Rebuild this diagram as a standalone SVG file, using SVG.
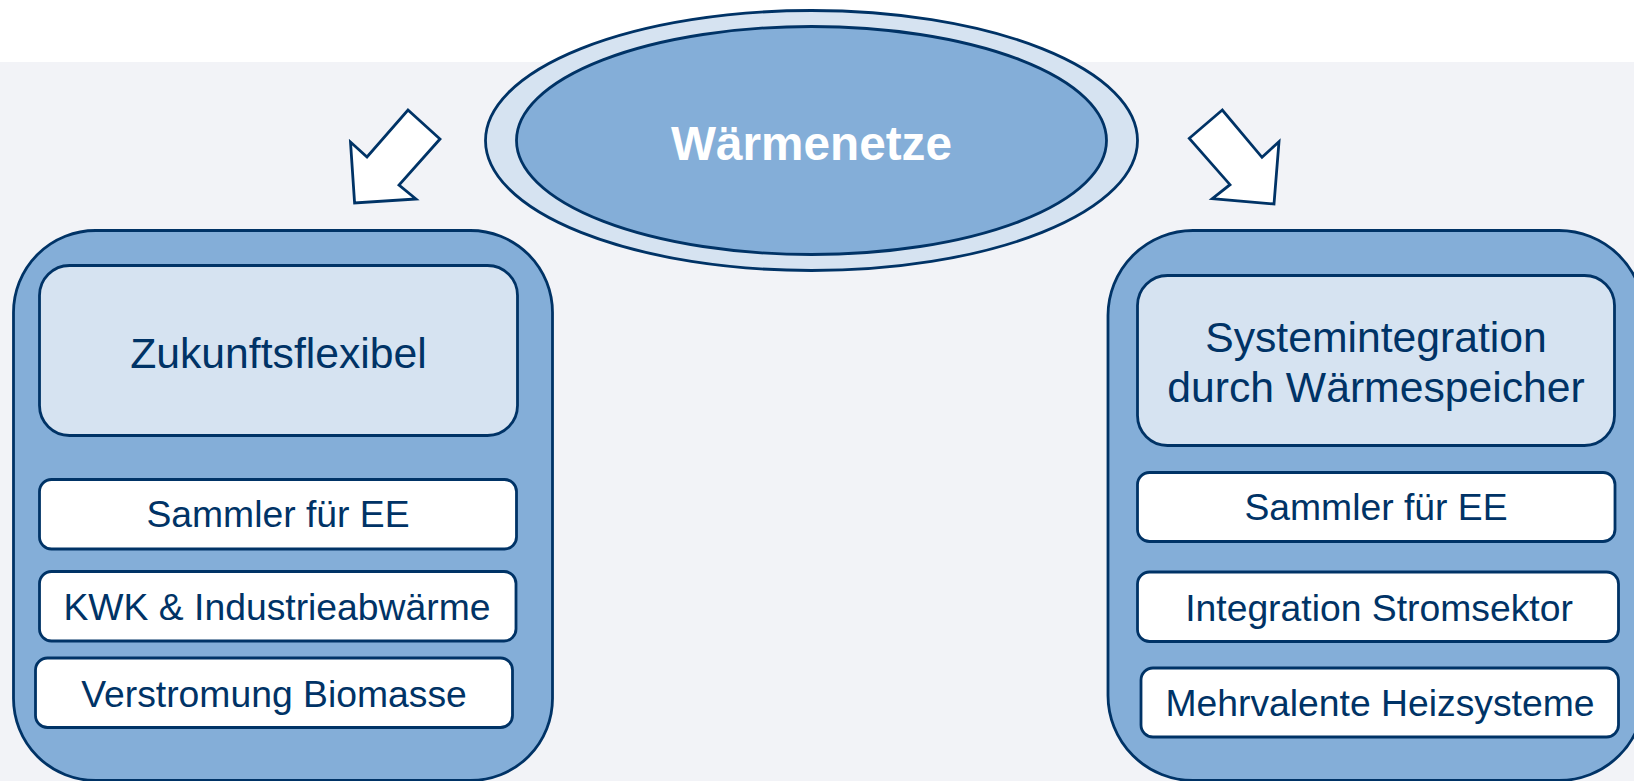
<svg xmlns="http://www.w3.org/2000/svg" width="1634" height="781" viewBox="0 0 1634 781">
<style>
.s{stroke:#003366;stroke-width:2.8}
.p{fill:#84aed8}
.l{fill:#d6e3f1}
.w{fill:#fff}
text{font-family:"Liberation Sans",Arial,sans-serif;fill:#003366;text-anchor:middle}
.t{font-size:37.3px}
.h{font-size:42.7px}
</style>
<rect width="1634" height="781" fill="#fff"/>
<rect y="62" width="1634" height="719" fill="#f2f3f7"/>
<g id="connectors">
<polygon class="s w" points="408,110 440,139 399,185 416,199 354.6,203 350.5,142 367,157"/>
<polygon class="s w" points="1222.3,110 1189.3,138.3 1230,184.7 1212.3,198.7 1274,204 1279,141.7 1262,157.3"/>
</g>
<g id="node-waermenetze">
<ellipse class="s l" cx="811.500" cy="140.5" rx="326" ry="130"/>
<ellipse class="s p" cx="811.500" cy="140.5" rx="295" ry="114"/>
<text x="811.500" y="159.500" font-size="47.7" font-weight="bold" style="fill:#fff">Wärmenetze</text>
</g>
<g id="panel-left">
<rect class="s p" x="13.5" y="230.5" width="539" height="550" rx="82" ry="82"/>
</g>
<g id="node-zukunftsflexibel">
<rect class="s l" x="39.5" y="265.5" width="478" height="170" rx="30" ry="30"/>
<text class="h" x="278.500" y="368">Zukunftsflexibel</text>
</g>
<g id="node-sammler-left">
<rect class="s w" x="39.5" y="479.5" width="477" height="69.5" rx="12" ry="12"/>
<text class="t" x="278" y="527">Sammler für EE</text>
</g>
<g id="node-kwk">
<rect class="s w" x="39.5" y="571.5" width="476.5" height="69.5" rx="12" ry="12"/>
<text class="t" x="277" y="620">KWK &amp; Industrieabwärme</text>
</g>
<g id="node-verstromung">
<rect class="s w" x="35.5" y="658" width="477" height="69.5" rx="12" ry="12"/>
<text class="t" x="274" y="707">Verstromung Biomasse</text>
</g>
<g id="panel-right">
<rect class="s p" x="1108" y="230.5" width="536" height="550" rx="85" ry="85"/>
</g>
<g id="node-systemintegration">
<rect class="s l" x="1137.5" y="275.5" width="477" height="170" rx="30" ry="30"/>
<text class="h" x="1376" y="352">Systemintegration</text>
<text class="h" x="1376" y="402">durch Wärmespeicher</text>
</g>
<g id="node-sammler-right">
<rect class="s w" x="1137.5" y="472.5" width="477.5" height="69" rx="12" ry="12"/>
<text class="t" x="1376" y="520">Sammler für EE</text>
</g>
<g id="node-integration">
<rect class="s w" x="1137.5" y="572" width="481" height="69.5" rx="12" ry="12"/>
<text class="t" x="1379" y="621">Integration Stromsektor</text>
</g>
<g id="node-mehrvalente">
<rect class="s w" x="1141" y="668" width="477.5" height="69" rx="12" ry="12"/>
<text class="t" x="1380" y="716">Mehrvalente Heizsysteme</text>
</g>
</svg>
